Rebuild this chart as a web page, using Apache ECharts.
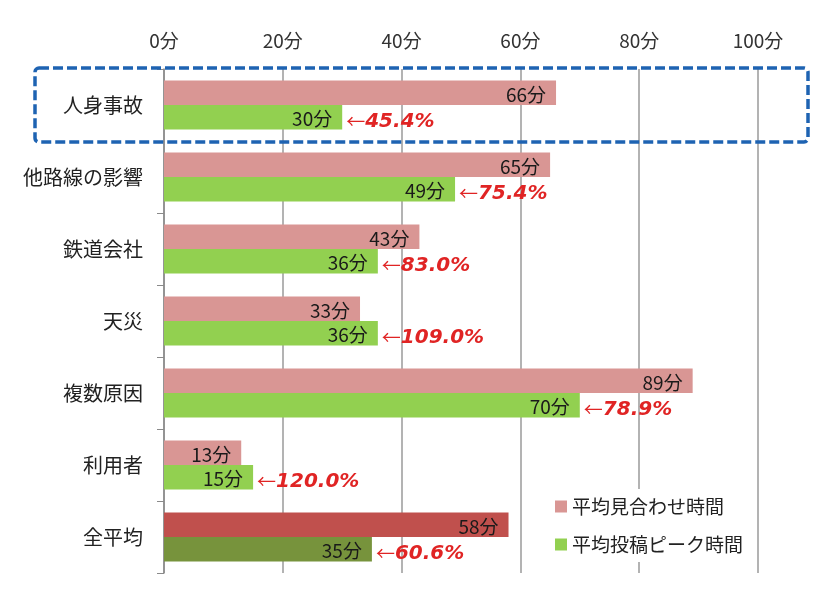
<!DOCTYPE html>
<html><head><meta charset="utf-8">
<script src="https://cdn.jsdelivr.net/npm/echarts@6/dist/echarts.min.js"></script>
<style>html,body{margin:0;padding:0;background:#fff}#c{width:840px;height:591px}</style>
</head><body><div id="c"></div>
<script>
var categories = ['人身事故','他路線の影響','鉄道会社','天災','複数原因','利用者','全平均'];
var stopTime = [66,65,43,33,89,13,58];
var peakTime = [30,49,36,36,70,15,35];
var ratio = ['45.4%','75.4%','83.0%','109.0%','78.9%','120.0%','60.6%'];
var xTicks = [0,20,40,60,80,100];
var seriesNames = ['平均見合わせ時間','平均投稿ピーク時間'];

var FONT = '"Noto Sans CJK JP","Noto Sans",sans-serif';
var last = categories.length - 1;
var chart = echarts.init(document.getElementById('c'));
chart.setOption({
  animation:false,
  backgroundColor:'#fff',
  textStyle:{fontFamily:FONT},
  grid:{left:164,right:82,top:69,bottom:18},
  legend:{
    data:seriesNames, orient:'vertical', left:547, top:489,
    backgroundColor:'#fff', padding:[8,10,8,8], itemGap:19,
    itemWidth:12, itemHeight:12, icon:'rect',
    textStyle:{fontSize:19, color:'#222', fontFamily:FONT}
  },
  xAxis:{
    type:'value', position:'top', min:0, max:100, interval:20,
    axisLine:{show:false}, axisTick:{show:false},
    axisLabel:{fontSize:19, color:'#333', margin:19, formatter:function(v){return v+'分';}},
    splitLine:{lineStyle:{color:'#9a9a9a', width:1.5}}
  },
  yAxis:{
    type:'category', data:categories, inverse:true,
    axisLine:{lineStyle:{color:'#8a8a8a', width:1.5}},
    axisTick:{show:true, length:7, lineStyle:{color:'#8a8a8a'}},
    axisLabel:{fontSize:20, color:'#222', margin:21}
  },
  series:[
    {name:seriesNames[0], type:'bar', barGap:'0%', barCategoryGap:'32%',
     data:stopTime.map(function(v,i){return {value:v, itemStyle:{color: i===last?'#c0504d':'#d99694'}};}),
     itemStyle:{color:'#d99694'},
     label:{show:true, position:'insideRight', distance:10, offset:[0,2], fontSize:19, color:'#1a1a1a', formatter:'{c}分'}
    },
    {name:seriesNames[1], type:'bar', stack:'g',
     data:peakTime.map(function(v,i){return {value:v, itemStyle:{color: i===last?'#77933c':'#92d050'}};}),
     itemStyle:{color:'#92d050'},
     label:{show:true, position:'insideRight', distance:10, offset:[0,2], fontSize:19, color:'#1a1a1a', formatter:'{c}分'}
    },
    {name:'ratio', type:'bar', stack:'g', data:categories.map(function(){return 0;}),
     itemStyle:{color:'rgba(0,0,0,0)'}, silent:true,
     label:{show:true, position:'right', distance:4, offset:[0,5],
       formatter:function(p){return '{a|←}{b|'+ratio[p.dataIndex]+'}';},
       rich:{a:{fontSize:19, color:'#e02424', fontFamily:FONT},
             b:{fontSize:20, color:'#e02424', fontWeight:'bold', fontStyle:'italic', fontFamily:'"DejaVu Sans",Verdana,sans-serif'}}}
    }
  ]
});
var cy = chart.convertToPixel({yAxisIndex:0}, categories[0]);
var bw = chart.getModel().getComponent('yAxis',0).axis.getBandWidth();
chart.setOption({graphic:[{type:'rect', z:100,
  shape:{x:35, y:cy-bw/2-1, width:773, height:bw+2, r:4},
  style:{fill:'none', stroke:'#1e63b2', lineWidth:3.5, lineDash:[10,4]}}]});
</script></body></html>
